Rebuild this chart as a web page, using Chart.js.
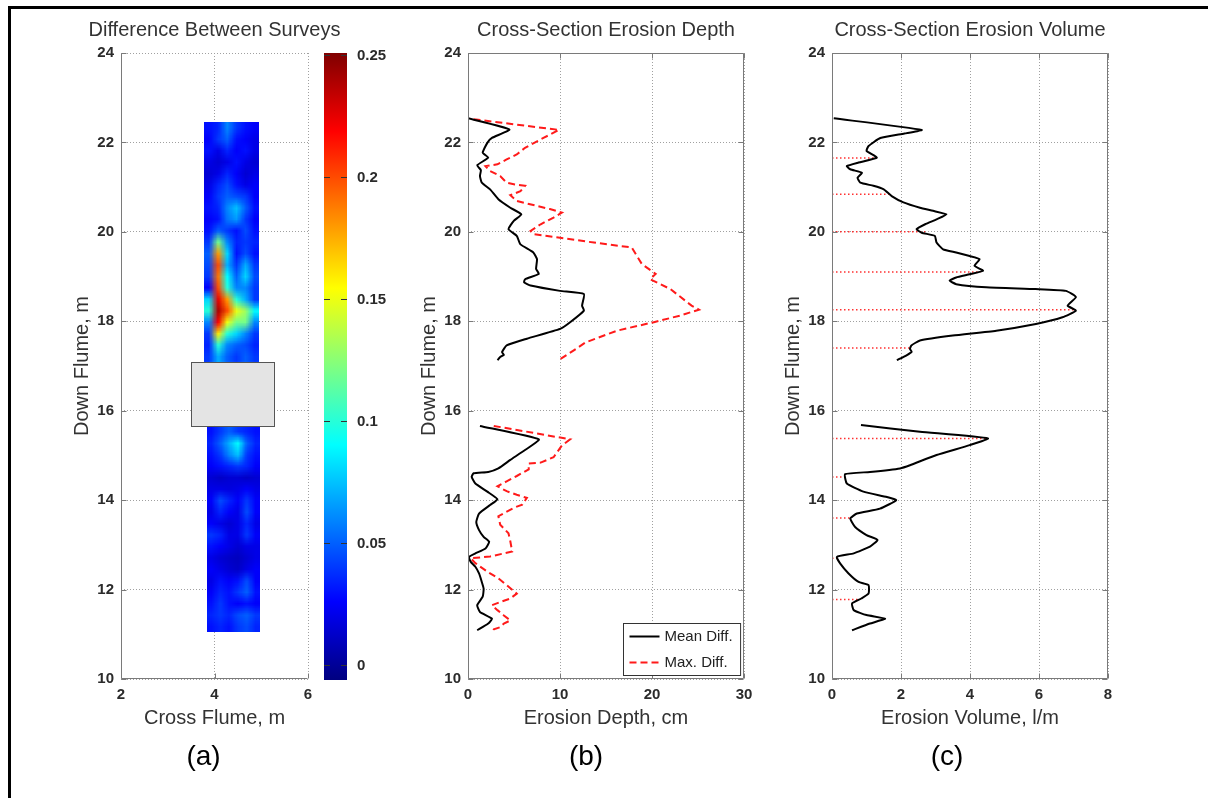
<!DOCTYPE html>
<html>
<head>
<meta charset="utf-8">
<script src="https://cdn.jsdelivr.net/npm/chart.js@4.4.1/dist/chart.umd.min.js"></script>
<style>
  html, body { margin: 0; background: #fff; }
  #fig { position: relative; width: 1208px; height: 798px; overflow: hidden; background: #fff; }
  #fig canvas { position: absolute; left: 0; top: 0; }
  #frame { position: absolute; left: 8px; top: 6px; right: -10px; bottom: -10px;
           border-top: 3px solid #000; border-left: 3px solid #000; }
</style>
</head>
<body>
<div id="fig">
  <div id="frame"></div>
  <canvas id="panelA" width="1208" height="798"></canvas>
  <canvas id="colorbar" width="1208" height="798"></canvas>
  <canvas id="panelB" width="1208" height="798"></canvas>
  <canvas id="panelC" width="1208" height="798"></canvas>
</div>
<script>
const FONT = "'Liberation Sans', Arial, Helvetica, sans-serif";

// axis ticks
const flumeTicks = [10, 12, 14, 16, 18, 20, 22, 24];
const crossTicks = [2, 4, 6];
const depthTicks = [0, 10, 20, 30];
const volumeTicks = [0, 2, 4, 6, 8];
const colorTicks = [0, 0.05, 0.1, 0.15, 0.2, 0.25];
const colorRange = [-0.006, 0.251];

// (a) difference between surveys, grid rows listed from upstream (top) down
const heatUpperX = [3.78, 4.95];
const heatUpperY = [22.46, 17.09];
const heatUpper = [
  [0.030, 0.035, 0.060, 0.040, 0.030, 0.025],
  [0.025, 0.040, 0.050, 0.030, 0.025, 0.020],
  [0.030, 0.020, 0.035, 0.025, 0.030, 0.020],
  [0.020, 0.015, 0.020, 0.030, 0.020, 0.015],
  [0.015, 0.020, 0.035, 0.025, 0.015, 0.020],
  [0.020, 0.035, 0.045, 0.030, 0.020, 0.025],
  [0.025, 0.040, 0.050, 0.045, 0.040, 0.025],
  [0.030, 0.035, 0.060, 0.075, 0.050, 0.030],
  [0.025, 0.030, 0.055, 0.065, 0.040, 0.025],
  [0.030, 0.050, 0.040, 0.030, 0.045, 0.030],
  [0.040, 0.120, 0.060, 0.035, 0.040, 0.035],
  [0.050, 0.180, 0.080, 0.030, 0.045, 0.030],
  [0.045, 0.200, 0.070, 0.040, 0.070, 0.040],
  [0.040, 0.190, 0.090, 0.050, 0.080, 0.045],
  [0.025, 0.200, 0.100, 0.060, 0.060, 0.040],
  [0.080, 0.225, 0.180, 0.100, 0.070, 0.040],
  [0.100, 0.240, 0.200, 0.150, 0.130, 0.090],
  [0.060, 0.220, 0.150, 0.120, 0.120, 0.060],
  [0.040, 0.160, 0.100, 0.080, 0.060, 0.040],
  [0.035, 0.100, 0.060, 0.050, 0.045, 0.035],
  [0.040, 0.070, 0.050, 0.040, 0.050, 0.040]
];
const heatLowerX = [3.83, 4.97];
const heatLowerY = [15.66, 11.05];
const heatLower = [
  [0.030, 0.040, 0.050, 0.040, 0.035, 0.030],
  [0.035, 0.050, 0.070, 0.090, 0.050, 0.035],
  [0.030, 0.040, 0.060, 0.075, 0.040, 0.030],
  [0.025, 0.030, 0.035, 0.040, 0.035, 0.025],
  [0.015, 0.012, 0.015, 0.015, 0.012, 0.015],
  [0.020, 0.020, 0.018, 0.020, 0.025, 0.020],
  [0.025, 0.045, 0.035, 0.025, 0.040, 0.025],
  [0.020, 0.035, 0.025, 0.020, 0.045, 0.025],
  [0.025, 0.020, 0.015, 0.020, 0.035, 0.020],
  [0.040, 0.035, 0.020, 0.020, 0.040, 0.025],
  [0.030, 0.025, 0.020, 0.015, 0.020, 0.020],
  [0.020, 0.015, 0.012, 0.010, 0.015, 0.020],
  [0.025, 0.020, 0.015, 0.012, 0.020, 0.025],
  [0.020, 0.030, 0.025, 0.030, 0.045, 0.025],
  [0.025, 0.035, 0.030, 0.040, 0.050, 0.030],
  [0.030, 0.040, 0.030, 0.025, 0.030, 0.025],
  [0.035, 0.040, 0.035, 0.045, 0.050, 0.040],
  [0.030, 0.035, 0.030, 0.040, 0.045, 0.035]
];
// unsurveyed structure footprint
const blockX = [3.5, 5.27];
const blockY = [15.66, 17.09];

// (b) erosion depth [cm, down flume m]
const depthMeanUpper = [[0,22.54],[4.5,22.29],[2.6,22.1],[2.1,21.99],[1.6,21.77],[2.2,21.66],[1.0,21.49],[1.4,21.38],[1.3,21.25],[1.5,21.1],[2.4,20.95],[3.3,20.73],[4.6,20.54],[5.8,20.39],[5.0,20.25],[4.4,20.06],[5.3,19.91],[5.7,19.72],[7.1,19.54],[7.5,19.39],[7.4,19.17],[7.7,19.06],[6.2,18.94],[6.1,18.87],[6.8,18.8],[10.0,18.68],[12.6,18.61],[12.4,18.35],[12.6,18.24],[11.1,17.98],[10.0,17.83],[6.4,17.61],[4.2,17.46],[3.7,17.31],[3.9,17.25],[3.5,17.2],[3.2,17.13]];
const depthMeanLower = [[1.3,15.66],[7.7,15.36],[6.2,15.12],[4.6,14.9],[3.3,14.71],[2.2,14.63],[0.6,14.6],[0.4,14.52],[0.8,14.37],[2.1,14.19],[3.2,14.02],[2.4,13.89],[1.2,13.7],[0.9,13.51],[1.2,13.33],[1.7,13.18],[2.3,13.07],[1.9,12.92],[0.8,12.81],[0.1,12.73],[0.3,12.62],[0.8,12.51],[1.2,12.36],[1.5,12.17],[1.7,12.02],[1.6,11.84],[1.0,11.65],[1.3,11.5],[2.6,11.35],[2.2,11.24],[1.0,11.09]];
const depthMaxUpper = [[0.6,22.52],[9.9,22.28],[8.2,22.1],[6.2,21.88],[5.3,21.73],[4.2,21.62],[3.2,21.51],[1.9,21.47],[2.4,21.36],[3.5,21.25],[4.2,21.1],[5.1,21.06],[6.2,21.03],[5.7,20.91],[4.6,20.82],[5.3,20.69],[7.5,20.58],[8.9,20.51],[10.2,20.43],[9.3,20.32],[7.9,20.17],[6.8,20.02],[7.1,19.95],[10.0,19.87],[13.7,19.76],[17.8,19.65],[18.9,19.28],[20.4,19.06],[19.8,18.94],[22.0,18.72],[24.3,18.35],[25.1,18.26],[23.1,18.13],[20.2,17.98],[16.2,17.79],[12.8,17.53],[11.5,17.35],[10.0,17.15]];
const depthMaxLower = [[2.8,15.66],[11.1,15.36],[10.2,15.22],[9.3,14.96],[7.9,14.84],[6.6,14.82],[6.6,14.69],[5.3,14.54],[4.2,14.42],[3.2,14.31],[4.2,14.2],[5.3,14.12],[6.4,14.05],[5.9,13.9],[5.0,13.83],[3.3,13.64],[3.5,13.45],[4.4,13.26],[4.6,13.08],[4.8,12.85],[2.4,12.74],[0.3,12.7],[0.8,12.59],[2.1,12.4],[3.3,12.25],[4.2,12.1],[5.3,11.91],[4.6,11.8],[3.5,11.72],[2.6,11.65],[3.2,11.54],[3.9,11.42],[4.6,11.31],[3.9,11.24],[3.5,11.16],[2.8,11.11],[2.6,11.05]];

// (c) erosion volume [l/m, down flume m]
const volumeUpper = [[0.05,22.54],[2.6,22.28],[2.1,22.2],[1.4,22.1],[1.06,21.92],[1.0,21.81],[1.3,21.66],[0.77,21.55],[0.43,21.47],[0.53,21.4],[0.87,21.32],[0.74,21.21],[0.82,21.1],[1.2,21.03],[1.5,20.95],[1.73,20.8],[2.07,20.66],[2.55,20.54],[2.93,20.47],[3.32,20.39],[3.03,20.28],[2.7,20.17],[2.45,20.06],[2.6,19.98],[2.98,19.91],[3.03,19.76],[3.22,19.61],[3.6,19.54],[3.99,19.46],[4.28,19.39],[4.13,19.24],[4.38,19.13],[3.99,19.05],[3.6,18.98],[3.41,18.91],[3.6,18.83],[4.47,18.76],[5.9,18.72],[6.78,18.68],[7.07,18.54],[6.83,18.35],[7.07,18.24],[6.68,18.09],[5.91,17.94],[4.76,17.79],[3.5,17.68],[2.55,17.57],[2.3,17.46],[2.26,17.38],[2.31,17.32],[2.16,17.24],[1.88,17.13]];
const volumeLower = [[0.84,15.68],[2.55,15.53],[4.52,15.38],[3.99,15.23],[3.03,15.01],[2.26,14.78],[1.97,14.71],[1.1,14.63],[0.38,14.58],[0.43,14.37],[0.91,14.19],[1.59,14.07],[1.86,14.0],[1.39,13.81],[0.72,13.7],[0.53,13.59],[0.67,13.4],[1.0,13.22],[1.32,13.11],[1.1,12.96],[0.63,12.81],[0.14,12.73],[0.24,12.58],[0.48,12.36],[0.77,12.17],[1.06,12.1],[1.06,11.91],[0.85,11.8],[0.58,11.69],[0.63,11.54],[1.0,11.43],[1.54,11.35],[1.1,11.24],[0.58,11.09]];
// survey cross-sections (red dotted stems)
const stemY = [21.65, 20.84, 20.0, 19.1, 18.26, 17.4, 15.38, 14.52, 13.6, 12.7, 11.78];
const stemX = [1.3, 1.65, 2.7, 4.3, 7.07, 2.26, 4.52, 0.35, 0.53, 0.14, 0.8];

// helpers
const pts = arr => arr.map(p => ({x: p[0], y: p[1]}));
const gap = {x: null, y: null};
const joinParts = (a, b) => [...pts(a), gap, ...pts(b)];

function jet(t) {
  t = Math.min(1, Math.max(0, t));
  const c = v => Math.round(255 * Math.min(1, Math.max(0, v)));
  return [c(1.5 - Math.abs(4 * t - 3)), c(1.5 - Math.abs(4 * t - 2)), c(1.5 - Math.abs(4 * t - 1))];
}
const colorT = v => (v - colorRange[0]) / (colorRange[1] - colorRange[0]);

function axis(ticks, pos, size, title) {
  const bottom = pos === 'bottom';
  return {
    type: 'linear', position: pos,
    min: ticks[0], max: ticks[ticks.length - 1],
    afterBuildTicks: s => { s.ticks = ticks.map(v => ({value: v})); },
    afterFit: s => {
      if (bottom) s.height = size; else s.width = size;
      s.paddingLeft = s.paddingRight = s.paddingTop = s.paddingBottom = 0;
    },
    grid: {color: '#a0a0a0', lineWidth: 1, drawTicks: false, borderDash: [1, 2]},
    border: {display: false, dash: [1, 2]},
    ticks: {color: '#2b2b2b', font: {family: FONT, size: 15, weight: 'bold'},
            padding: bottom ? 7 : 7, maxRotation: 0, autoSkip: false},
    title: {display: true, text: title, color: '#333', font: {family: FONT, size: 20},
            padding: bottom ? {top: 0, bottom: 9} : {top: 10, bottom: 0}}
  };
}

// axes frame with inward tick marks
const framePlugin = {
  id: 'frame',
  afterDatasetsDraw(chart, args, opts) {
    const {ctx, chartArea: a, scales: {x, y}} = chart;
    const L = Math.round(a.left) + 0.5, R = Math.round(a.right) - 0.5;
    const T = Math.round(a.top) + 0.5, B = Math.round(a.bottom) - 0.5;
    ctx.save();
    ctx.strokeStyle = '#7a7a7a';
    ctx.lineWidth = 1;
    ctx.beginPath();
    if (opts.box) ctx.rect(L, T, R - L, B - T);
    else { ctx.moveTo(L, T); ctx.lineTo(L, B); ctx.lineTo(R, B); }
    x.ticks.forEach(t => {
      const px = Math.round(x.getPixelForValue(t.value)) + 0.5;
      ctx.moveTo(px, B); ctx.lineTo(px, B - 5);
      if (opts.box) { ctx.moveTo(px, T); ctx.lineTo(px, T + 5); }
    });
    y.ticks.forEach(t => {
      const py = Math.round(y.getPixelForValue(t.value)) + 0.5;
      ctx.moveTo(L, py); ctx.lineTo(L + 5, py);
      if (opts.box) { ctx.moveTo(R, py); ctx.lineTo(R - 5, py); }
    });
    ctx.stroke();
    ctx.restore();
  }
};

// panel title and (a)/(b)/(c) tag
const panelTextPlugin = {
  id: 'panelText',
  afterDraw(chart, args, opts) {
    const {ctx, chartArea: a} = chart;
    const cx = (a.left + a.right) / 2;
    ctx.save();
    ctx.textAlign = 'center';
    ctx.textBaseline = 'middle';
    ctx.fillStyle = '#333';
    ctx.font = `20px ${FONT}`;
    ctx.fillText(opts.title, cx, a.top - 23);
    ctx.fillStyle = '#000';
    ctx.font = `28px ${FONT}`;
    ctx.fillText(opts.tag, cx + opts.tagDx, 757);
    ctx.restore();
  }
};

// heat map cells of panel (a)
const heatPlugin = {
  id: 'heat',
  beforeDatasetsDraw(chart) {
    const {ctx, chartArea: a, scales: {x, y}} = chart;
    ctx.save();
    ctx.beginPath();
    ctx.rect(a.left, a.top, a.right - a.left, a.bottom - a.top);
    ctx.clip();
    [[heatUpper, heatUpperX, heatUpperY], [heatLower, heatLowerX, heatLowerY]].forEach(([grid, gx, gy]) => {
      const rows = grid.length, cols = grid[0].length;
      const off = document.createElement('canvas');
      off.width = cols; off.height = rows;
      const octx = off.getContext('2d');
      const img = octx.createImageData(cols, rows);
      grid.forEach((row, r) => row.forEach((v, c) => {
        const [R, G, B] = jet(colorT(v));
        const k = (r * cols + c) * 4;
        img.data[k] = R; img.data[k + 1] = G; img.data[k + 2] = B; img.data[k + 3] = 255;
      }));
      octx.putImageData(img, 0, 0);
      const x0 = x.getPixelForValue(gx[0]), x1 = x.getPixelForValue(gx[1]);
      const y0 = y.getPixelForValue(gy[0]), y1 = y.getPixelForValue(gy[1]);
      ctx.imageSmoothingEnabled = true;
      ctx.drawImage(off, x0, y0, x1 - x0, y1 - y0);
    });
    const bx0 = x.getPixelForValue(blockX[0]), bx1 = x.getPixelForValue(blockX[1]);
    const by0 = y.getPixelForValue(blockY[1]), by1 = y.getPixelForValue(blockY[0]);
    ctx.fillStyle = '#e4e4e4';
    ctx.fillRect(bx0, by0, bx1 - bx0, by1 - by0);
    ctx.strokeStyle = '#555';
    ctx.lineWidth = 1;
    ctx.strokeRect(Math.round(bx0) + 0.5, Math.round(by0) + 0.5, Math.round(bx1 - bx0), Math.round(by1 - by0));
    ctx.restore();
  }
};

// colour bar fill and tick marks
const colorbarPlugin = {
  id: 'colorbarFill',
  beforeDatasetsDraw(chart) {
    const {ctx, chartArea: a, scales: {y}} = chart;
    const g = ctx.createLinearGradient(0, a.bottom, 0, a.top);
    for (let i = 0; i <= 64; i++) {
      const [R, G, B] = jet(i / 64);
      g.addColorStop(i / 64, `rgb(${R},${G},${B})`);
    }
    ctx.save();
    ctx.fillStyle = g;
    ctx.fillRect(a.left, a.top, a.right - a.left, a.bottom - a.top);
    ctx.strokeStyle = '#333';
    ctx.lineWidth = 1;
    ctx.beginPath();
    y.ticks.forEach(t => {
      const py = Math.round(y.getPixelForValue(t.value)) + 0.5;
      ctx.moveTo(a.left, py); ctx.lineTo(a.left + 6, py);
      ctx.moveTo(a.right, py); ctx.lineTo(a.right - 6, py);
    });
    ctx.stroke();
    ctx.restore();
  }
};

// boxed legend inside lower right of panel (b)
const boxLegendPlugin = {
  id: 'boxLegend',
  afterDatasetsDraw(chart) {
    const {ctx, chartArea: a} = chart;
    const ds = chart.data.datasets;
    ctx.save();
    ctx.font = `15px ${FONT}`;
    const tw = Math.max(...ds.map(d => ctx.measureText(d.label).width));
    const w = 6 + 30 + 5 + tw + 8, h = 52;
    const x0 = Math.round(a.right - 4 - w) + 0.5, y0 = Math.round(a.bottom - 4 - h) + 0.5;
    ctx.fillStyle = '#fff';
    ctx.fillRect(x0, y0, w, h);
    ctx.strokeStyle = '#333';
    ctx.lineWidth = 1;
    ctx.strokeRect(x0, y0, w, h);
    ds.forEach((d, i) => {
      const yy = y0 + 13 + i * 26;
      ctx.strokeStyle = d.borderColor;
      ctx.lineWidth = d.borderWidth;
      ctx.setLineDash(d.borderDash || []);
      ctx.beginPath();
      ctx.moveTo(x0 + 6, yy); ctx.lineTo(x0 + 36, yy);
      ctx.stroke();
      ctx.setLineDash([]);
      ctx.fillStyle = '#222';
      ctx.textBaseline = 'middle';
      ctx.textAlign = 'left';
      ctx.fillText(d.label, x0 + 41, yy);
    });
    ctx.restore();
  }
};

function baseOptions(padLeft, padRight, scales, frame, text) {
  return {
    responsive: false,
    animation: false,
    devicePixelRatio: 1,
    layout: {autoPadding: false, padding: {left: padLeft, right: padRight, top: 53, bottom: 59}},
    plugins: {legend: {display: false}, tooltip: {enabled: false}, frame, panelText: text},
    scales
  };
}

// (a) difference between surveys
new Chart(document.getElementById('panelA'), {
  type: 'scatter',
  data: {datasets: []},
  options: baseOptions(60, 1208 - 308,
    {x: axis(crossTicks, 'bottom', 60, 'Cross Flume, m'), y: axis(flumeTicks, 'left', 61, 'Down Flume, m')},
    {box: false}, {title: 'Difference Between Surveys', tag: '(a)', tagDx: -11}),
  plugins: [heatPlugin, framePlugin, panelTextPlugin]
});

// colour bar
new Chart(document.getElementById('colorbar'), {
  type: 'scatter',
  data: {datasets: []},
  options: {
    responsive: false,
    animation: false,
    devicePixelRatio: 1,
    layout: {autoPadding: false, padding: {left: 324, right: 1208 - 347 - 45, top: 53, bottom: 798 - 680}},
    plugins: {legend: {display: false}, tooltip: {enabled: false}},
    scales: {
      x: {display: false, min: 0, max: 1},
      y: {
        type: 'linear', position: 'right',
        min: colorRange[0], max: colorRange[1],
        afterBuildTicks: s => { s.ticks = colorTicks.map(v => ({value: v})); },
        afterFit: s => { s.width = 45; s.paddingTop = s.paddingBottom = 0; },
        grid: {display: false},
        border: {display: false},
        ticks: {color: '#2b2b2b', font: {family: FONT, size: 15, weight: 'bold'}, padding: 2,
                callback: v => String(v)}
      }
    }
  },
  plugins: [colorbarPlugin]
});

// (b) erosion depth
new Chart(document.getElementById('panelB'), {
  type: 'scatter',
  data: {
    datasets: [
      {label: 'Mean Diff.', data: joinParts(depthMeanUpper, depthMeanLower), showLine: true,
       spanGaps: false, borderColor: '#000', borderWidth: 2, pointRadius: 0, tension: 0.15},
      {label: 'Max. Diff.', data: joinParts(depthMaxUpper, depthMaxLower), showLine: true,
       spanGaps: false, borderColor: '#ff1a1a', borderWidth: 2, borderDash: [7, 4], pointRadius: 0, tension: 0}
    ]
  },
  options: baseOptions(407, 1208 - 744,
    {x: axis(depthTicks, 'bottom', 60, 'Erosion Depth, cm'), y: axis(flumeTicks, 'left', 61, 'Down Flume, m')},
    {box: true}, {title: 'Cross-Section Erosion Depth', tag: '(b)', tagDx: -20}),
  plugins: [framePlugin, boxLegendPlugin, panelTextPlugin]
});

// (c) erosion volume
const stemData = [];
stemY.forEach((y, i) => { stemData.push({x: 0, y}, {x: stemX[i], y}, gap); });

new Chart(document.getElementById('panelC'), {
  type: 'scatter',
  data: {
    datasets: [
      {label: 'Erosion Volume', data: joinParts(volumeUpper, volumeLower), showLine: true,
       spanGaps: false, borderColor: '#000', borderWidth: 2, pointRadius: 0, tension: 0.15},
      {label: 'Sections', data: stemData, showLine: true, spanGaps: false,
       borderColor: '#ff3030', borderWidth: 1.5, borderDash: [1.5, 2.5], pointRadius: 0}
    ]
  },
  options: baseOptions(771, 1208 - 1108,
    {x: axis(volumeTicks, 'bottom', 60, 'Erosion Volume, l/m'), y: axis(flumeTicks, 'left', 61, 'Down Flume, m')},
    {box: true}, {title: 'Cross-Section Erosion Volume', tag: '(c)', tagDx: -23}),
  plugins: [framePlugin, panelTextPlugin]
});
</script>
</body>
</html>
